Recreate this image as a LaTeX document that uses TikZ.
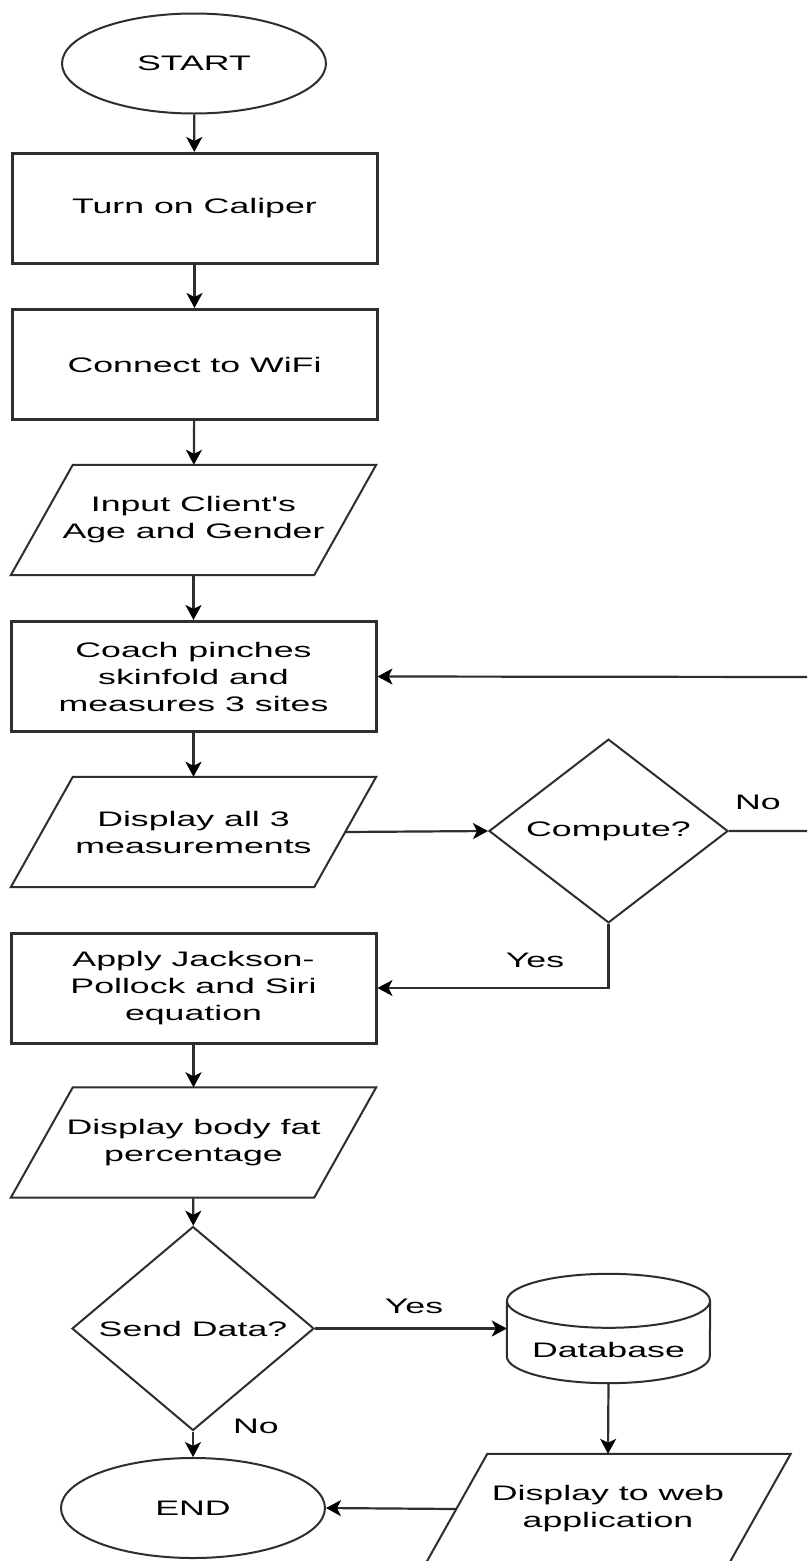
\documentclass[tikz,border=0pt]{standalone}
\usepackage{fontspec}
\setmainfont[FakeStretch=1.7, Ligatures=TeXOff]{Liberation Sans}
\usetikzlibrary{shapes.geometric,arrows.meta}
\definecolor{lc}{HTML}{2E2E2E}
\tikzset{
  base/.style={font=\fontsize{21}{27}\selectfont, align=center, text=black},
  proc/.style={base, rectangle, draw=lc, line width=3pt, minimum width=365pt, minimum height=110pt, inner sep=0pt},
  term/.style={base, ellipse, draw=lc, line width=2pt, minimum width=264pt, minimum height=100pt, inner sep=0pt},
  io/.style={base, rectangle, minimum width=303pt, minimum height=110pt, inner sep=0pt},
  ioline/.style={draw=lc, line width=2pt, line join=miter},
  dec/.style={base, diamond, draw=lc, line width=2pt, inner sep=0pt},
  conn/.style={draw=lc, line width=2.2pt, -{Stealth[length=15pt,width=16pt,inset=4pt,color=black]}},
  lbl/.style={base},
}
\begin{document}
\begin{tikzpicture}[x=1pt, y=-1pt]
\useasboundingbox (0,0) rectangle (807,1561);
\clip (0,0) rectangle (807,1561);
\fill[white] (0,0) rectangle (807,1561);

% nodes
\node[term] (start) at (194,63.5) {START};
\node[proc] (turn) at (194.5,208.5) {Turn on Caliper};
\node[proc] (wifi) at (194.5,364.5) {Connect to WiFi};
\node[io] (input) at (193.5,520) {Input Client's\\Age and Gender};
\node[proc] (coach) at (193.5,676.5) {Coach pinches\\skinfold and\\measures 3 sites};
\node[io] (disp3) at (193.5,832) {Display all 3\\measurements};
\node[dec, minimum width=239pt, minimum height=146pt] (compute) at (608.5,831) {Compute?};
\node[proc] (apply) at (193.5,988) {Apply Jackson-\\Pollock and Siri\\equation};
\node[io] (fat) at (193.5,1142.5) {Display body fat\\percentage};
\node[dec, minimum width=242pt, minimum height=145pt] (send) at (193,1328.5) {Send Data?};
\node[base, rectangle, minimum width=203pt, minimum height=109pt, inner sep=0pt] (db) at (608.5,1328.5) {};
\node[base] (dbtext) at (608.5,1350) {Database};
\node[io] (web) at (608,1509) {Display to web\\application};
\node[term] (end) at (193,1508) {END};

% parallelogram outlines
\foreach \n in {input,disp3,fat,web}
  \draw[ioline] ([xshift=31pt]\n.north west) -- ([xshift=31pt]\n.north east)
     -- ([xshift=-31pt]\n.south east) -- ([xshift=-31pt]\n.south west) -- cycle;

% cylinder outline
\draw[draw=lc, line width=2pt]
  ([yshift=-27pt]db.north west) -- ([yshift=27pt]db.south west)
  arc[start angle=180, end angle=360, x radius=101.5pt, y radius=27pt]
  -- ([yshift=-27pt]db.north east);
\draw[draw=lc, line width=2pt] ([yshift=-27pt]db.north) ellipse[x radius=101.5pt, y radius=27pt];

% connectors
\draw[conn] (start) -- (turn);
\draw[conn] (turn) -- (wifi);
\draw[conn] (wifi) -- (input);
\draw[conn] (input) -- (coach);
\draw[conn] (coach) -- (disp3);
\draw[conn] (disp3.east) -- (compute.west);
\coordinate (loop) at (820,677);
\draw[conn] (compute.east) -| (loop) -- (coach.east);
\draw[conn] (compute.south) |- (apply.east);
\draw[conn] (apply) -- (fat);
\draw[conn] (fat) -- (send);
\draw[conn] (send.east) -- (db.west);
\draw[conn] (send.south) -- (end.north);
\draw[conn] (db.south) -- (web.north);
\draw[conn] (web.west) -- (end.east);

% labels
\node[lbl] (lno1) at (758,802) {No};
\node[lbl] (lyes1) at (535,960) {Yes};
\node[lbl] (lyes2) at (414,1306) {Yes};
\node[lbl] (lno2) at (256,1426) {No};
\end{tikzpicture}
\end{document}
